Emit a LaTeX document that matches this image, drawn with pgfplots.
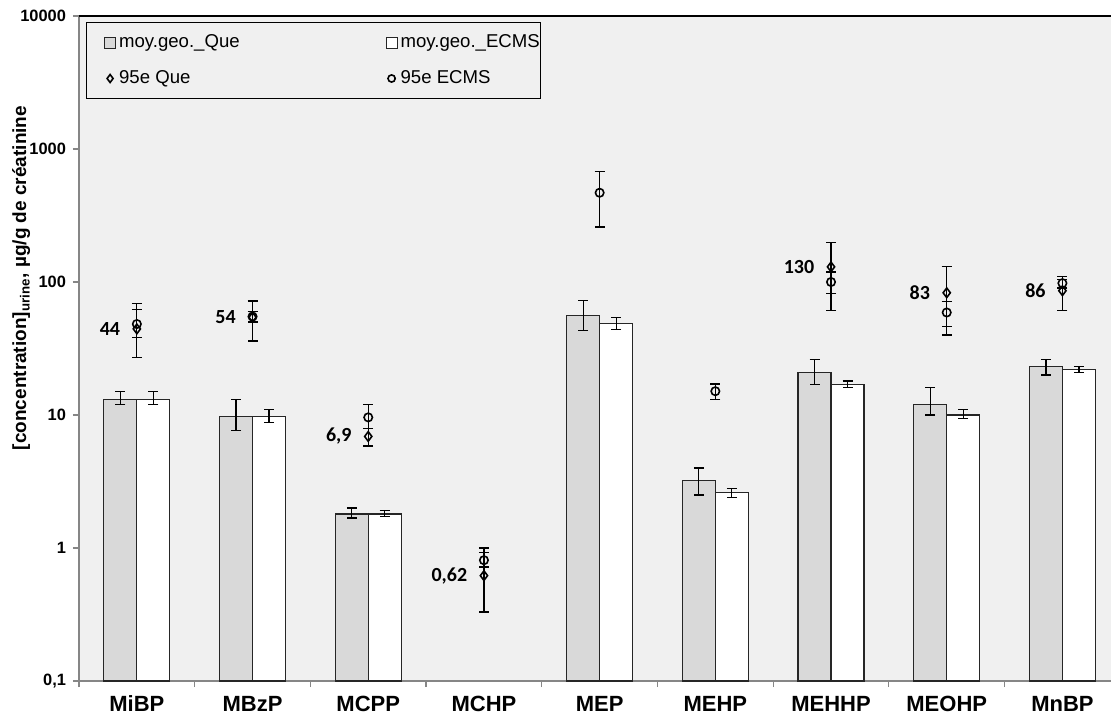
\documentclass[border=0pt]{standalone}
\usepackage{pgfplots}
\pgfplotsset{compat=1.18}
\usepackage{fontspec}
\setmainfont{Liberation Sans}
\newfontfamily\calib{Carlito}
\definecolor{bgc}{HTML}{F0F0F0}
\definecolor{barg}{HTML}{D9D9D9}
\definecolor{axg}{HTML}{868686}
\definecolor{bard}{HTML}{262626}
\begin{document}
\begin{tikzpicture}
\begin{axis}[
 name=ax, scale only axis, width=516pt, height=332.5pt,
 ymode=log, ymin=0.1, ymax=10000, log origin=infty,
 xmin=-0.5, xmax=8.42,
 axis x line*=bottom, axis y line*=left,
 axis line style={axg, line width=0.6pt},
 axis background/.style={fill=bgc},
 xtick={0,...,8},
 xticklabels={MiBP,MBzP,MCPP,MCHP,MEP,MEHP,MEHHP,MEOHP,MnBP},
 minor xtick={-0.5,0.5,...,7.5},
 ytick={0.1,1,10,100,1000,10000}, yticklabels={{0,1},1,10,100,1000,10000},
 yminorticks=false,
 tick align=outside, major tick length=3pt, minor tick length=3pt,
 major x tick style={draw=none},
 major y tick style={axg, line width=0.6pt},
 minor x tick style={axg, line width=0.6pt},
 yticklabel style={font=\bfseries\fontsize{8.2}{9}\selectfont},
 xticklabel style={font=\bfseries\fontsize{11}{13}\selectfont, text height=8pt, text depth=0pt, yshift=-0.5pt},
 ylabel={\bfseries [concentration]\textsubscript{urine}, µg/g de créatinine},
 ylabel style={at={(axis description cs:-0.056,0.606)}, anchor=center, font=\fontsize{9.5}{11}\selectfont},
 legend columns=2, legend cell align=left,
 legend style={at={(0,1)}, anchor=north west, xshift=3.5pt, yshift=-3pt, fill=bgc, draw=black, line width=0.6pt,
   inner xsep=0pt, inner ysep=5.75pt, font=\fontsize{9.3}{11}\selectfont, row sep=9pt,
   nodes={inner sep=0pt, text height=6.8pt, text depth=2pt, anchor=west},
   /tikz/every odd column/.append style={column sep=1.5pt},
   /tikz/every even column/.append style={column sep=2.5pt}},
 error bars/error bar style={black, line width=0.6pt},
 error bars/error mark options={black, mark size=2.5pt, line width=0.6pt, rotate=90},
]
\addplot[ybar, bar width=0.285, bar shift=0, fill=barg, draw=bard, line width=0.6pt,
  legend image code/.code={\path[draw=none, fill=none] (0pt,-2.75pt) rectangle (14.5pt,2.75pt); \draw[fill=barg, draw=bard, line width=0.5pt] (9pt,-2.75pt) rectangle (14.5pt,2.75pt);},
  error bars/.cd, y dir=both, y explicit]
 table[x=x, y=y, y error plus=ep, y error minus=em] {
 x y ep em
 -0.1425 13.0 2.0 1.0
 0.8575 9.8 3.2 2.1
 1.8575 1.8 0.2 0.12
 3.8575 56 17 13
 4.8575 3.2 0.8 0.7
 5.8575 21 5 4
 6.8575 12 4 2
 7.8575 23 3 3
 };
\addlegendentry{\makebox[122pt][l]{moy.geo.\_Que}}
\addplot[ybar, bar width=0.285, bar shift=0, fill=white, draw=bard, line width=0.6pt,
  legend image code/.code={\path[draw=none, fill=none] (0pt,-2.75pt) rectangle (14.5pt,2.75pt); \draw[fill=white, draw=bard, line width=0.5pt] (9pt,-2.75pt) rectangle (14.5pt,2.75pt);},
  error bars/.cd, y dir=both, y explicit]
 table[x=x, y=y, y error plus=ep, y error minus=em] {
 x y ep em
 0.1425 13.0 2.0 1.0
 1.1425 9.8 1.2 1.0
 2.1425 1.8 0.11 0.08
 4.1425 49 5 5
 5.1425 2.6 0.2 0.2
 6.1425 17 1 1
 7.1425 10.0 1.0 0.6
 8.1425 22 1 1
 };
\addlegendentry{\makebox[70pt][l]{moy.geo.\_ECMS}}
\addplot[only marks, mark=diamond, mark size=2.4pt, mark options={black, line width=0.8pt, fill=none},
  legend image code/.code={\path[draw=none, fill=none] (0pt,-2.75pt) rectangle (14.5pt,2.75pt); \draw[only marks, mark=diamond, mark size=2pt, mark options={black, line width=0.8pt}] plot coordinates {(11.75pt,0pt)};},
  nodes near coords, point meta=explicit symbolic,
  nodes near coords style={anchor=east, xshift=-8pt, inner sep=0pt, black, font=\calib\bfseries\fontsize{10}{12}\selectfont},
  error bars/.cd, y dir=both, y explicit]
 table[x=x, y=y, y error plus=ep, y error minus=em, meta=lab] {
 x y ep em lab
 0 44.4 24.6 17.4 44
 1 54.3 17.7 18.3 54
 2 6.9 1.04 1.05 6,9
 3 0.62 0.30 0.29 0,62
 6 130 69 48 130
 7 83 47 37 83
 8 86 24 25 86
 };
\addlegendentry{\makebox[122pt][l]{95e Que}}
\addplot[only marks, mark=o, mark size=2.1pt, mark options={black, line width=0.8pt},
  legend image code/.code={\path[draw=none, fill=none] (0pt,-2.75pt) rectangle (14.5pt,2.75pt); \draw[only marks, mark=o, mark size=1.8pt, mark options={black, line width=0.8pt}] plot coordinates {(11.75pt,0pt)};},
  error bars/.cd, y dir=both, y explicit]
 table[x=x, y=y, y error plus=ep, y error minus=em] {
 x y ep em
 0 48.3 14.1 10.3
 1 55 5 5
 2 9.6 2.4 1.66
 3 0.81 0.19 0.09
 4 469 206 210
 5 15.1 2.0 2.1
 6 100 19 39
 7 59 12 19
 8 98 6 8
 };
\addlegendentry{\makebox[70pt][l]{95e ECMS}}
\end{axis}
\draw[black, line width=1.2pt] (ax.north west) -- (ax.north east);
\pgfresetboundingbox
\path (ax.south west) ++(-39.5pt,-19pt) rectangle ++(555.5pt,359.5pt);
\end{tikzpicture}
\end{document}
